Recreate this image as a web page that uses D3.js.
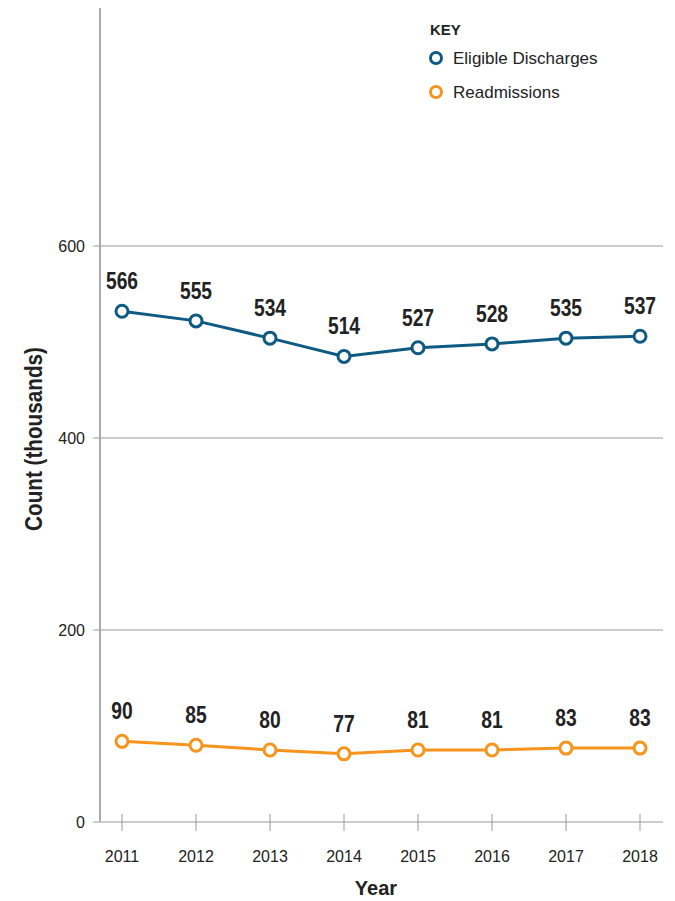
<!DOCTYPE html>
<html>
<head>
<meta charset="utf-8">
<script src="https://cdn.jsdelivr.net/npm/d3@7"></script>
<style>
  body { margin: 0; background: #fff; }
  svg { display: block; }
  .bold { font-family: "Liberation Sans", Arial, sans-serif; font-weight: bold; }
  .plain { font-family: "Liberation Sans", Arial, sans-serif; }
</style>
</head>
<body>
<div id="chart"></div>
<script>
// data
var years = [2011, 2012, 2013, 2014, 2015, 2016, 2017, 2018];
// plotted positions (thousands)
var discharges = [532, 522, 504, 485, 494, 498, 504, 506];
var readmissions = [84, 80, 75, 71, 75, 75, 77, 77];
// printed labels
var dischargeLabels = ["566", "555", "534", "514", "527", "528", "535", "537"];
var readmissionLabels = ["90", "85", "80", "77", "81", "81", "83", "83"];
var yTicks = [0, 200, 400, 600];

var svgWidth = 675;
var svgHeight = 901;

var blue = "#0f5a82";
var orange = "#f7941d";
var grid = "#9a9a9a";

var svg = d3.select("#chart")
  .append("svg")
  .attr("width", svgWidth)
  .attr("height", svgHeight);

// scales
var xScale = d3.scalePoint()
  .domain(years)
  .range([122, 640]);

var yScale = d3.scaleLinear()
  .domain([0, 850])
  .range([822, 6]);

var left = 93, right = 663, axisX = 100;

// gridlines
svg.selectAll(".grid")
  .data(yTicks.filter(d => d > 0))
  .enter()
  .append("line")
  .attr("x1", left)
  .attr("x2", right)
  .attr("y1", d => yScale(d))
  .attr("y2", d => yScale(d))
  .attr("stroke", grid)
  .attr("stroke-width", 1);

// y tick labels
svg.selectAll(".ylab")
  .data(yTicks)
  .enter()
  .append("text")
  .attr("class", "plain")
  .attr("x", 85)
  .attr("y", d => yScale(d) + 5.5)
  .attr("text-anchor", "end")
  .attr("font-size", 16)
  .attr("fill", "#222")
  .text(d => d);

// x axis
svg.append("line")
  .attr("x1", left).attr("x2", right)
  .attr("y1", yScale(0)).attr("y2", yScale(0))
  .attr("stroke", grid)
  .attr("stroke-width", 1.2);

svg.selectAll(".xtick")
  .data(years)
  .enter()
  .append("line")
  .attr("x1", d => xScale(d)).attr("x2", d => xScale(d))
  .attr("y1", yScale(0) - 8).attr("y2", yScale(0) + 9)
  .attr("stroke", grid)
  .attr("stroke-width", 1);

svg.selectAll(".xlab")
  .data(years)
  .enter()
  .append("text")
  .attr("class", "plain")
  .attr("x", d => xScale(d))
  .attr("y", 862)
  .attr("text-anchor", "middle")
  .attr("font-size", 16)
  .attr("fill", "#222")
  .text(d => d);

// y axis line
svg.append("line")
  .attr("x1", axisX).attr("x2", axisX)
  .attr("y1", yScale(0)).attr("y2", 8)
  .attr("stroke", "#aaa")
  .attr("stroke-width", 2);

// axis titles (condensed look via horizontal squeeze)
svg.append("text")
  .attr("class", "bold")
  .attr("transform", "translate(42, 439) rotate(-90) scale(0.9, 1)")
  .attr("text-anchor", "middle")
  .attr("font-size", 23)
  .attr("fill", "#222")
  .text("Count (thousands)");

svg.append("text")
  .attr("class", "bold")
  .attr("x", 376)
  .attr("y", 895)
  .attr("text-anchor", "middle")
  .attr("font-size", 20)
  .attr("fill", "#222")
  .text("Year");

// series
var series = [
  { values: discharges, labels: dischargeLabels, color: blue },
  { values: readmissions, labels: readmissionLabels, color: orange }
];

var line = d3.line()
  .x((d, i) => xScale(years[i]))
  .y(d => yScale(d));

series.forEach(function(s) {
  svg.append("path")
    .datum(s.values)
    .attr("d", line)
    .attr("fill", "none")
    .attr("stroke", s.color)
    .attr("stroke-width", 3);

  svg.selectAll(null)
    .data(s.values)
    .enter()
    .append("circle")
    .attr("cx", (d, i) => xScale(years[i]))
    .attr("cy", d => yScale(d))
    .attr("r", 6)
    .attr("fill", "#fff")
    .attr("stroke", s.color)
    .attr("stroke-width", 3);

  svg.selectAll(null)
    .data(s.values)
    .enter()
    .append("text")
    .attr("class", "bold")
    .attr("transform", (d, i) => `translate(${xScale(years[i])}, ${yScale(d) - 22}) scale(0.82, 1)`)
    .attr("text-anchor", "middle")
    .attr("font-size", 23.5)
    .attr("fill", "#222")
    .text((d, i) => s.labels[i]);
});

// legend
var legend = svg.append("g");

legend.append("text")
  .attr("class", "bold")
  .attr("x", 430)
  .attr("y", 35)
  .attr("font-size", 15)
  .attr("fill", "#222")
  .text("KEY");

var keys = [
  { name: "Eligible Discharges", color: blue, y: 58 },
  { name: "Readmissions", color: orange, y: 92 }
];

keys.forEach(function(k) {
  legend.append("circle")
    .attr("cx", 436)
    .attr("cy", k.y)
    .attr("r", 5.5)
    .attr("fill", "#fff")
    .attr("stroke", k.color)
    .attr("stroke-width", 3);
  legend.append("text")
    .attr("class", "plain")
    .attr("x", 453)
    .attr("y", k.y + 6)
    .attr("font-size", 17)
    .attr("fill", "#222")
    .text(k.name);
});
</script>
</body>
</html>
